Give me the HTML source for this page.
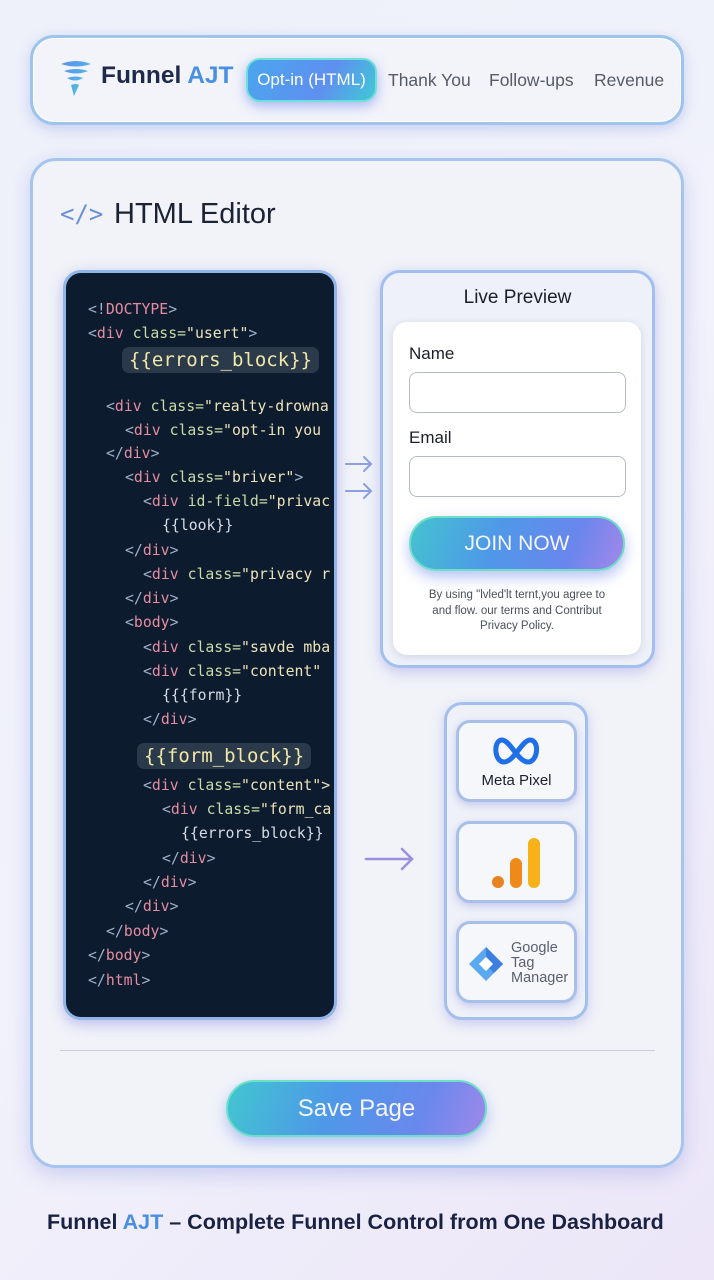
<!DOCTYPE html>
<html><head><meta charset="utf-8">
<style>
*{margin:0;padding:0;box-sizing:border-box}
body{width:714px;height:1280px;overflow:hidden;position:relative;font-family:"Liberation Sans",sans-serif;
background:linear-gradient(135deg,#eef1fa 0%,#f1f2fb 50%,#ece6f8 100%);}
.abs{position:absolute}
.nav{left:30px;top:35px;width:654px;height:90px;border-radius:24px;background:#f3f4fa;
border:3px solid #9cc4ec;box-shadow:0 4px 14px rgba(120,140,220,.35), inset 0 0 0 1px #fff;}
.card{left:30px;top:158px;width:654px;height:1010px;border-radius:26px;background:#f1f3f9;
border:3px solid #a5c5ee;box-shadow:0 6px 20px rgba(130,140,220,.35);}
.code{left:63px;top:270px;width:274px;height:750px;border-radius:18px;background:#0c1b2e;
border:3px solid #8fb6e6;box-shadow:0 4px 14px rgba(120,120,220,.45);overflow:hidden}
.cl{position:absolute;font-family:"DejaVu Sans Mono","Liberation Mono",monospace;font-size:14.8px;white-space:pre;color:#c9d4dc}
.p{color:#9fb0c8}.t{color:#e58ca0}.a{color:#c7dba6}.s{color:#ece3b8}.m{color:#d6dde6}
.hl{position:absolute;background:#2b3a4a;border-radius:7px;color:#f0e7a8;font-family:"DejaVu Sans Mono",monospace;font-size:19px;padding:2px 7px}
.prev{left:380px;top:270px;width:275px;height:398px;border-radius:20px;background:#eef1f9;border:3px solid #a3bfee;box-shadow:0 4px 14px rgba(130,130,220,.4)}
.form{left:393px;top:322px;width:248px;height:333px;border-radius:14px;background:#fff;box-shadow:0 2px 8px rgba(120,130,180,.25)}
.inp{position:absolute;left:16px;width:217px;height:41px;border:1.5px solid #b5bcc8;border-radius:8px;background:#fff}
.trk{left:444px;top:702px;width:144px;height:318px;border-radius:18px;background:#eef1f8;border:3px solid #a3bfee;box-shadow:0 4px 12px rgba(130,130,220,.35)}
.sub{position:absolute;left:9px;width:121px;height:82px;border-radius:14px;background:#f6f7fb;border:3px solid #a8bfe8;box-shadow:0 3px 8px rgba(120,120,220,.35)}
</style></head><body>

<div class="abs nav"></div>
<svg class="abs" style="left:58px;top:58px" width="36" height="40" viewBox="0 0 36 40">
<defs><linearGradient id="g1" x1="0" y1="0" x2="1" y2="1"><stop offset="0" stop-color="#5b8ff0"/><stop offset="1" stop-color="#4ec6e0"/></linearGradient></defs>
<path d="M3 6 Q18 0 33 6 Q18 11 3 6Z M6 13 Q18 9 30 13 Q18 18 6 13Z M9 20 Q18 17 25 20 Q17 25 9 20Z M13 27 Q18 25 21 27 L16 38 Z" fill="url(#g1)"/></svg>
<div class="abs" style="left:101px;top:62px;font-size:24.5px;font-weight:bold;color:#1d2a4a">Funnel <span style="color:#4a90e2">AJT</span></div>
<div class="abs" style="left:246px;top:58px;width:131px;height:44px;border-radius:14px;background:linear-gradient(120deg,#4aa6ee,#5f8ff0 60%,#40c9d6);border:2px solid #6ee0d6;box-shadow:0 4px 12px rgba(90,120,240,.5);color:#fff;font-size:17px;text-align:center;line-height:40px">Opt-in (HTML)</div>
<div class="abs" style="left:388px;top:70px;font-size:17.5px;color:#555b66">Thank You</div>
<div class="abs" style="left:489px;top:70px;font-size:17.5px;color:#555b66">Follow-ups</div>
<div class="abs" style="left:594px;top:70px;font-size:17.5px;color:#555b66">Revenue</div>

<div class="abs card"></div>
<div class="abs" style="left:60px;top:200px;font-size:24px;color:#6a8fd8;font-family:'DejaVu Sans Mono',monospace">&lt;/&gt;</div>
<div class="abs" style="left:114px;top:198px;font-size:29px;color:#1b2233">HTML Editor</div>

<div class="abs code">
<div class="cl" style="left:22px;top:28px"><span class="p">&lt;!</span><span class="t">DOCTYPE</span><span class="p">&gt;</span></div>
<div class="cl" style="left:22px;top:52px"><span class="p">&lt;</span><span class="t">div</span> <span class="a">class=</span><span class="s">"usert"</span><span class="p">&gt;</span></div>
<div class="hl" style="left:56px;top:74px">{{errors_block}}</div>
<div class="cl" style="left:40px;top:125px"><span class="p">&lt;</span><span class="t">div</span> <span class="a">class=</span><span class="s">"realty-drowna</span></div>
<div class="cl" style="left:59px;top:149px"><span class="p">&lt;</span><span class="t">div</span> <span class="a">class=</span><span class="s">"opt-in you</span></div>
<div class="cl" style="left:40px;top:172px"><span class="p">&lt;/</span><span class="t">div</span><span class="p">&gt;</span></div>
<div class="cl" style="left:59px;top:196px"><span class="p">&lt;</span><span class="t">div</span> <span class="a">class=</span><span class="s">"briver"</span><span class="p">&gt;</span></div>
<div class="cl" style="left:77px;top:220px"><span class="p">&lt;</span><span class="t">div</span> <span class="a">id-field=</span><span class="s">"privac</span></div>
<div class="cl m" style="left:96px;top:244px">{{look}}</div>
<div class="cl" style="left:59px;top:269px"><span class="p">&lt;/</span><span class="t">div</span><span class="p">&gt;</span></div>
<div class="cl" style="left:77px;top:293px"><span class="p">&lt;</span><span class="t">div</span> <span class="a">class=</span><span class="s">"privacy r</span></div>
<div class="cl" style="left:59px;top:317px"><span class="p">&lt;/</span><span class="t">div</span><span class="p">&gt;</span></div>
<div class="cl" style="left:59px;top:341px"><span class="p">&lt;</span><span class="t">body</span><span class="p">&gt;</span></div>
<div class="cl" style="left:77px;top:366px"><span class="p">&lt;</span><span class="t">div</span> <span class="a">class=</span><span class="s">"savde mba</span></div>
<div class="cl" style="left:77px;top:390px"><span class="p">&lt;</span><span class="t">div</span> <span class="a">class=</span><span class="s">"content"</span></div>
<div class="cl m" style="left:96px;top:414px">{{{form}}</div>
<div class="cl" style="left:77px;top:438px"><span class="p">&lt;/</span><span class="t">div</span><span class="p">&gt;</span></div>
<div class="hl" style="left:71px;top:470px">{{form_block}}</div>
<div class="cl" style="left:77px;top:504px"><span class="p">&lt;</span><span class="t">div</span> <span class="a">class=</span><span class="s">"content"&gt;</span></div>
<div class="cl" style="left:96px;top:528px"><span class="p">&lt;</span><span class="t">div</span> <span class="a">class=</span><span class="s">"form_ca</span></div>
<div class="cl m" style="left:115px;top:552px">{{errors_block}}</div>
<div class="cl" style="left:96px;top:577px"><span class="p">&lt;/</span><span class="t">div</span><span class="p">&gt;</span></div>
<div class="cl" style="left:77px;top:601px"><span class="p">&lt;/</span><span class="t">div</span><span class="p">&gt;</span></div>
<div class="cl" style="left:59px;top:625px"><span class="p">&lt;/</span><span class="t">div</span><span class="p">&gt;</span></div>
<div class="cl" style="left:40px;top:650px"><span class="p">&lt;/</span><span class="t">body</span><span class="p">&gt;</span></div>
<div class="cl" style="left:22px;top:674px"><span class="p">&lt;/</span><span class="t">body</span><span class="p">&gt;</span></div>
<div class="cl" style="left:22px;top:699px"><span class="p">&lt;/</span><span class="t">html</span><span class="p">&gt;</span></div>
</div>

<svg class="abs" style="left:340px;top:450px" width="40" height="60" viewBox="0 0 40 60">
<g stroke="#8aa0e0" stroke-width="2" fill="none" stroke-linecap="round">
<path d="M6 14 H31 M24 7 L31 14 L24 21"/><path d="M6 41 H31 M24 34 L31 41 L24 48"/></g></svg>
<svg class="abs" style="left:362px;top:843px" width="56" height="32" viewBox="0 0 56 32">
<g stroke="#9a90e0" stroke-width="2.5" fill="none" stroke-linecap="round"><path d="M4 16 H50 M40 6 L50 16 L40 26"/></g></svg>

<div class="abs prev"></div>
<div class="abs" style="left:380px;top:287px;width:275px;text-align:center;font-size:19px;color:#1b1f28">Live Preview</div>
<div class="abs form">
<div class="abs" style="left:16px;top:22px;font-size:17px;color:#1b1f28">Name</div>
<div class="inp" style="top:50px"></div>
<div class="abs" style="left:16px;top:106px;font-size:17px;color:#1b1f28">Email</div>
<div class="inp" style="top:134px"></div>
<div class="abs" style="left:16px;top:194px;width:216px;height:55px;border-radius:28px;background:linear-gradient(110deg,#44c3cf,#4f98e8 40%,#6a86ec 75%,#a487ea);border:2px solid #6ddfc8;box-shadow:0 6px 14px rgba(90,120,230,.45);color:#f2f6ff;font-size:21px;text-align:center;line-height:51px">JOIN NOW</div>
<div class="abs" style="left:0;top:266px;width:248px;text-align:center;font-size:11.5px;line-height:15.5px;color:#4a4f5a">By using "lvled'lt ternt,you agree to<br>and flow. our terms and Contribut<br>Privacy Policy.</div>
</div>

<div class="abs trk">
<div class="sub" style="top:15px">
<svg class="abs" style="left:31px;top:12px" width="54" height="32" viewBox="0 0 54 32"><path d="M14 27 C4 27 3 5 12 5 C20 5 28 27 38 27 C48 27 50 5 40 5 C32 5 24 27 14 27Z" fill="none" stroke="#1f6fe8" stroke-width="5"/></svg>
<div class="abs" style="left:0;top:49px;width:115px;text-align:center;font-size:15px;color:#1b2030">Meta Pixel</div>
</div>
<div class="sub" style="top:116px">
<svg class="abs" style="left:30px;top:12px" width="60" height="56" viewBox="0 0 60 56"><circle cx="9" cy="46" r="6" fill="#e8821f"/><rect x="21" y="22" width="12" height="30" rx="6" fill="#ee8a1a"/><rect x="39" y="2" width="12" height="50" rx="6" fill="#f7b21a"/></svg>
</div>
<div class="sub" style="top:216px">
<svg class="abs" style="left:7px;top:20px" width="40" height="40" viewBox="0 0 40 40"><path d="M20 3 L37 20 L20 37 L3 20Z" fill="#5aa8f0"/><path d="M20 3 L37 20 L28 29 L20 21Z" fill="#3d7fe0"/><rect x="15" y="15" width="10" height="10" transform="rotate(45 20 20)" fill="#fff"/></svg>
<div class="abs" style="left:52px;top:17px;font-size:14.5px;line-height:15px;color:#5a6070">Google<br>Tag<br>Manager</div>
</div>
</div>

<div class="abs" style="left:60px;top:1050px;width:595px;height:1px;background:#c8cede"></div>
<div class="abs" style="left:226px;top:1080px;width:261px;height:57px;border-radius:29px;background:linear-gradient(110deg,#42c6cf,#4e98e8 40%,#6a88ec 75%,#9e88ea);border:2px solid #6de0c8;box-shadow:0 6px 14px rgba(90,120,230,.4);color:#f4f7ff;font-size:24px;text-align:center;line-height:53px">Save Page</div>

<div class="abs" style="left:47px;top:1210px;font-size:21.5px;font-weight:bold;color:#1a2244;white-space:nowrap">Funnel <span style="color:#4a8ee0">AJT</span> – Complete Funnel Control from One Dashboard</div>
</body></html>
